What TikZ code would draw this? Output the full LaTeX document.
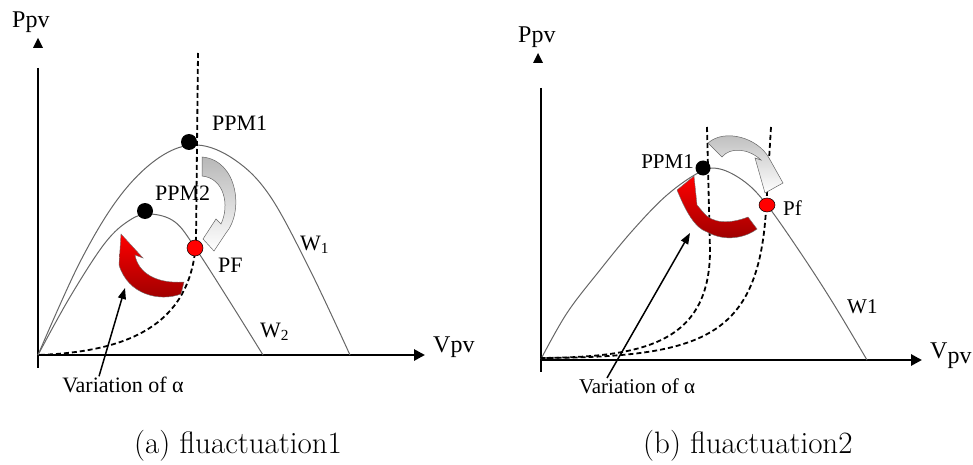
\documentclass[tikz,border=0pt]{standalone}
\usepackage{fontspec}
\newfontfamily\tnr{Liberation Serif}
\usetikzlibrary{arrows.meta, shapes.geometric, calc}

\tikzset{
  axisline/.style={line width=2.8pt},
  axishead/.style={-{Triangle[length=11pt,width=11pt]}},
  pvcurve/.style={draw=black!60, line width=1pt},
  mppline/.style={line width=1.8pt, dash pattern=on 5pt off 3pt},
  mpp/.style={circle, fill=black, inner sep=0pt, minimum size=16pt},
  opt/.style={circle, fill=red, draw=black, line width=0.5pt, inner sep=0pt, minimum size=16pt},
  lbl/.style={font=\tnr\fontsize{22}{26}\selectfont, inner sep=0pt},
  lblb/.style={font=\tnr\fontsize{21}{25}\selectfont, inner sep=0pt},
  axlbl/.style={font=\tnr\fontsize{24}{28}\selectfont, inner sep=0pt},
  pointer/.style={line width=1.5pt, -{Triangle[length=11pt,width=8pt]}},
  redturn/.style={top color=red, bottom color=red!60!black, draw=black!55, line width=0.4pt},
  grayturn/.style={top color=black!28, bottom color=white, draw=black!60, line width=0.5pt},
  capt/.style={font=\fontsize{31}{35}\selectfont, inner sep=0pt}
}

\begin{document}
\begin{tikzpicture}[x=1pt, y=-1pt]
  \useasboundingbox (0,0) rectangle (973,465);

  % ---------- (a) ----------
  % axes
  \coordinate (oA) at (38,355);
  \coordinate (yAtop) at (38,68);
  \coordinate (yAbot) at (38,368);
  \coordinate (xAend) at (425,355);
  \draw[axisline] (yAtop) -- (yAbot);
  \draw[axisline, axishead] (oA) -- (xAend);
  \fill (33,48) -- (38,38) -- (43,48) -- cycle;
  \node[axlbl, anchor=base west] (ppvA) at (12,28) {Ppv};
  \node[axlbl, anchor=base west] (vpvA) at (433,352) {Vpv};
  % P-V curves
  \draw[pvcurve] plot[smooth, tension=0.6] coordinates
    {(38,355) (80,262) (120,196) (160,157) (197,145) (235,160) (270,196) (310,270) (350,355)};
  \draw[pvcurve] plot[smooth, tension=0.6] coordinates
    {(38,355) (70,297) (105,243) (130,220) (150,214) (175,222) (196,249) (230,302) (263,355)};
  % operating line
  \draw[mppline] (198,53) -- (196,240) .. controls (192,330) and (120,352) .. (oA);
  % arrows
  \shadedraw[redturn] (121,234) -- (143,258) -- (135,255)
    .. controls (138,272) and (155,284) .. (184,282) -- (181,294)
    .. controls (160,302) and (128,295) .. (119,265) -- cycle;
  \shadedraw[grayturn] (202,157) .. controls (238,160) and (244,212) .. (226,233)
    -- (214,251) -- (203,239) -- (216,219) -- (221,224)
    .. controls (230,205) and (224,178) .. (202,176) -- cycle;
  % points
  \node[mpp] (ppm1A) at (189,142) {};
  \node[mpp] (ppm2A) at (145,211) {};
  \node[opt] (pfA) at (195,248) {};
  \node[lbl, anchor=base west] (ppm1Alab) at (212,131) {PPM1};
  \node[lbl, anchor=base west] (ppm2Alab) at (155,200) {PPM2};
  \node[lbl, anchor=base west] (pfAlab) at (218,272) {PF};
  \node[lbl, anchor=base west] (w1A) at (300,250) {W\textsubscript{1}};
  \node[lbl, anchor=base west] (w2A) at (260,337) {W\textsubscript{2}};
  \node[lbl, anchor=base] (varA) at (123,392) {Variation of α};
  \coordinate (tipA) at (125,288);
  \draw[pointer] ([xshift=-24pt]varA.north) -- (tipA);
  \node[capt, anchor=base west] (captA) at (134,453) {(a) fluactuation1};

  % ---------- (b) ----------
  % axes
  \coordinate (oB) at (541,360);
  \coordinate (yBtop) at (541,88);
  \coordinate (yBbot) at (541,372);
  \coordinate (xBend) at (922,360);
  \draw[axisline] (yBtop) -- (yBbot);
  \draw[axisline, axishead] (oB) -- (xBend);
  \fill (533,63) -- (538,53) -- (543,63) -- cycle;
  \node[axlbl, anchor=base west] (ppvB) at (518,43) {Ppv};
  \node[axlbl, anchor=base west] (vpvB) at (930,358) {V\raisebox{-5pt}{pv}};
  % P-V curve
  \draw[pvcurve] plot[smooth, tension=0.6] coordinates
    {(541,359) (567,313) (600,270) (633,230) (667,195) (700,172) (720,169) (745,182) (767,205) (800,252) (833,303) (867,360)};
  % operating lines
  \draw[mppline] (707,127) -- (710,250) .. controls (710,345) and (640,357) .. (541,358);
  \draw[mppline] (771,127) -- (766,210) .. controls (758,340) and (700,357) .. (541,358);
  % arrows
  \shadedraw[redturn] (748,217) .. controls (730,224) and (712,224) .. (703,212)
    -- (697,205) -- (694,176) -- (677,190)
    .. controls (686,212) and (695,228) .. (707,232)
    .. controls (725,242) and (745,238) .. (757,229) -- cycle;
  \shadedraw[grayturn] (708,143) .. controls (725,128) and (758,138) .. (769,158)
    -- (783,183) -- (765,193) -- (755,158) -- (761,160)
    .. controls (748,148) and (730,147) .. (722,157) -- cycle;
  % points
  \node[mpp, minimum size=15pt] (ppm1B) at (703,168) {};
  \node[opt, ellipse, minimum width=16pt, minimum height=14pt] (pfB) at (767,205) {};
  \node[lblb, anchor=base east] (ppm1Blab) at (694,168) {PPM1};
  \node[lblb, anchor=base west] (pfBlab) at (783,215) {Pf};
  \node[lblb, anchor=base west] (w1B) at (847,313) {W1};
  \node[lblb, anchor=base] (varB) at (637,393) {Variation of α};
  \coordinate (tipB) at (690,233);
  \draw[pointer] ([xshift=-30pt]varB.north) -- (tipB);
  \node[capt, anchor=base west] (captB) at (643,453) {(b) fluactuation2};
\end{tikzpicture}
\end{document}
